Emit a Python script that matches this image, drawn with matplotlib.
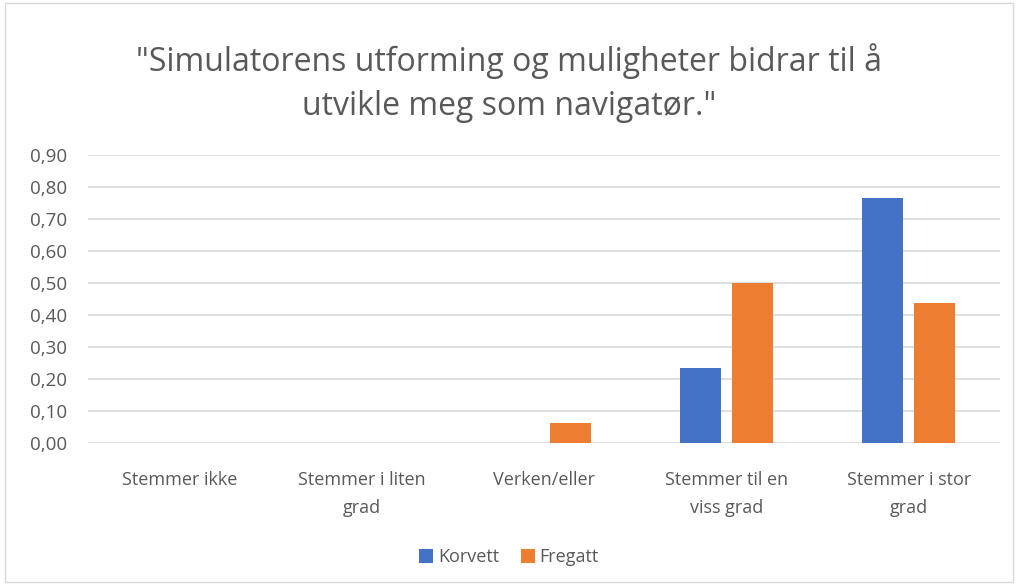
import numpy as np
import matplotlib.pyplot as plt
from matplotlib.patches import Rectangle

plt.rcParams['font.family'] = ['Open Sans', 'DejaVu Sans']

categories = ['Stemmer ikke', 'Stemmer i liten\ngrad', 'Verken/eller',
              'Stemmer til en\nviss grad', 'Stemmer i stor\ngrad']
korvett = [0.0, 0.0, 0.0, 0.235, 0.765]
fregatt = [0.0, 0.0, 0.0625, 0.5, 0.4375]
yticks = [0.0, 0.1, 0.2, 0.3, 0.4, 0.5, 0.6, 0.7, 0.8, 0.9]

blue = '#4472C4'
orange = '#ED7D31'
txt = '#595959'

fig = plt.figure(figsize=(10.18, 5.85), dpi=100)
ax = fig.add_axes([88/1018, 1 - 443/585, (1000-88)/1018, (443-155)/585])

x = np.arange(len(categories))
w = 0.225
ax.bar(x - 0.143, korvett, w, color=blue, label='Korvett', zorder=3)
ax.bar(x + 0.143, fregatt, w, color=orange, label='Fregatt', zorder=3)

ax.set_xlim(-0.5, len(categories) - 0.5)
ax.set_ylim(0, 0.9)
ax.set_yticks(yticks)
ax.set_yticklabels([f'{v:.2f}'.replace('.', ',') for v in yticks], color=txt, fontsize=13.5)
ax.set_xticks(x)
ax.set_xticklabels(categories, color=txt, fontsize=13, linespacing=1.75)
ax.tick_params(length=0)
ax.tick_params(axis='x', pad=20)
ax.tick_params(axis='y', pad=15)
ax.grid(axis='y', color='#D9D9D9', linewidth=1.2, zorder=0)
for s in ax.spines.values():
    s.set_visible(False)

fig.text(0.5, 1 - 83/585, '"Simulatorens utforming og muligheter bidrar til å\nutvikle meg som navigatør."',
         ha='center', va='center', fontsize=23, color=txt, linespacing=1.45)

fig.legend(loc='center', bbox_to_anchor=(0.5, 1 - 557/585), ncol=2, frameon=False,
           fontsize=13, labelcolor=txt, handlelength=0.8, handleheight=0.8,
           handletextpad=0.25, columnspacing=1.2)

fig.patches.append(Rectangle((0.005, 0.005), 0.99, 0.99, transform=fig.transFigure,
                             fill=False, edgecolor='#D9D9D9', linewidth=1))

fig.savefig('out.png', dpi=100)
